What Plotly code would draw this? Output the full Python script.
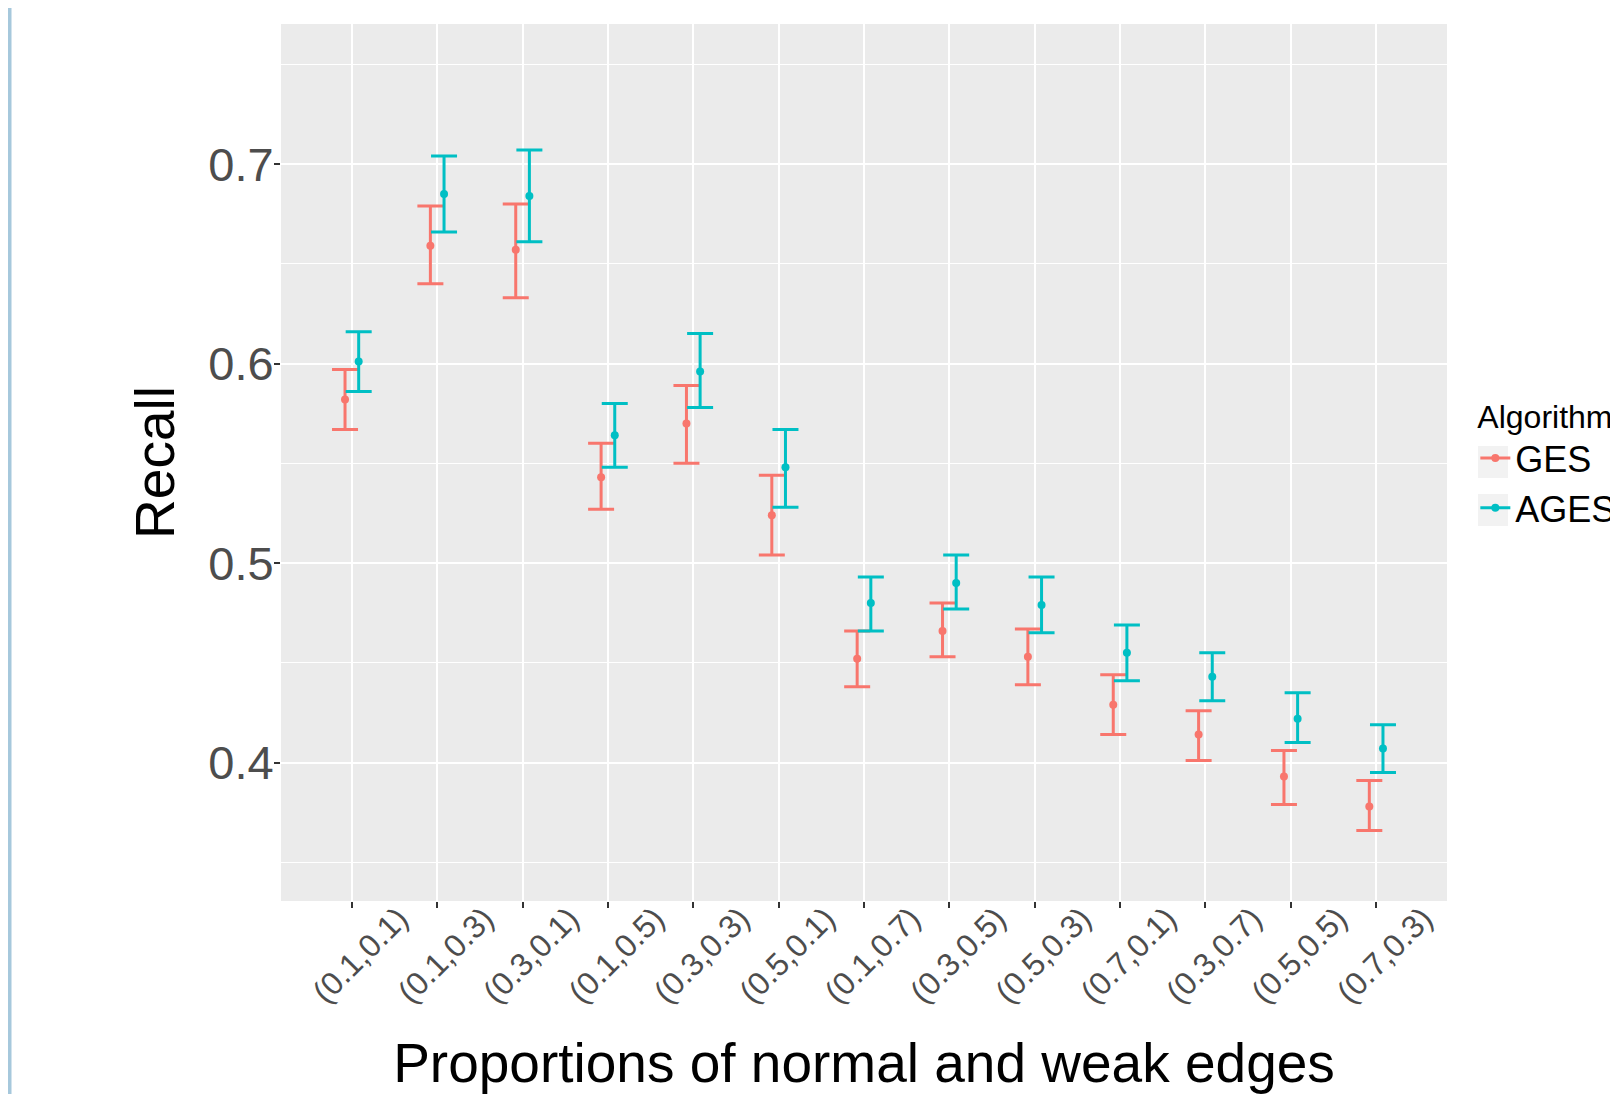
import plotly.graph_objects as go

categories = ["(0.1,0.1)", "(0.1,0.3)", "(0.3,0.1)", "(0.1,0.5)", "(0.3,0.3)", "(0.5,0.1)",
              "(0.1,0.7)", "(0.3,0.5)", "(0.5,0.3)", "(0.7,0.1)", "(0.3,0.7)", "(0.5,0.5)", "(0.7,0.3)"]

ges_mean = [0.582, 0.659, 0.657, 0.543, 0.570, 0.524, 0.452, 0.466, 0.453, 0.429, 0.414, 0.393, 0.378]
ges_upper = [0.597, 0.679, 0.680, 0.560, 0.589, 0.544, 0.466, 0.480, 0.467, 0.444, 0.426, 0.406, 0.391]
ges_lower = [0.567, 0.640, 0.633, 0.527, 0.550, 0.504, 0.438, 0.453, 0.439, 0.414, 0.401, 0.379, 0.366]

ages_mean = [0.601, 0.685, 0.684, 0.564, 0.596, 0.548, 0.480, 0.490, 0.479, 0.455, 0.443, 0.422, 0.407]
ages_upper = [0.616, 0.704, 0.707, 0.580, 0.615, 0.567, 0.493, 0.504, 0.493, 0.469, 0.455, 0.435, 0.419]
ages_lower = [0.586, 0.666, 0.661, 0.548, 0.578, 0.528, 0.466, 0.477, 0.465, 0.441, 0.431, 0.410, 0.395]

y_ticks = [0.4, 0.5, 0.6, 0.7]

FONT = "Liberation Sans, Arial, Helvetica, sans-serif"
DODGE = 0.08
pos = list(range(1, len(categories) + 1))

# page body has an 8px margin; figure size/margins compensate for it
W, H = 1610, 1086
ML, MR, MT, MB = 273, 171, 16, 193
PW, PH = W - ML - MR, H - MT - MB

fig = go.Figure()


def spaced(values):
    # isolate each point with a gap so no connecting line is drawn
    out = []
    for v in values:
        out.extend([v, None])
    return out


def add_series(name, color, mean, upper, lower, offset):
    fig.add_trace(go.Scatter(
        x=spaced([p + offset for p in pos]),
        y=spaced(mean),
        mode="lines+markers",
        connectgaps=False,
        name=name,
        line=dict(color=color, width=3),
        marker=dict(color=color, size=8),
        error_y=dict(
            type="data",
            symmetric=False,
            array=spaced([u - m for u, m in zip(upper, mean)]),
            arrayminus=spaced([m - l for m, l in zip(mean, lower)]),
            color=color,
            thickness=3,
            width=13,
        ),
        hovertemplate="%{y:.3f}<extra>" + name + "</extra>",
    ))


add_series("GES", "#F8766D", ges_mean, ges_upper, ges_lower, -DODGE)
add_series("AGES", "#00BFC4", ages_mean, ages_upper, ages_lower, DODGE)


def px_x(page_x):
    return (page_x - 8 - ML) / PW


def px_y(page_y):
    return 1 - (page_y - 8 - MT) / PH


key_boxes = []
for cy in (462, 510):
    key_boxes.append(dict(type="rect", xref="paper", yref="paper",
                          x0=px_x(1478), x1=px_x(1508), y0=px_y(cy + 16), y1=px_y(cy - 16),
                          fillcolor="#F2F2F2", line=dict(width=0), layer="below"))

fig.update_layout(
    width=W, height=H,
    margin=dict(l=ML, r=MR, t=MT, b=MB, autoexpand=False),
    paper_bgcolor="white",
    plot_bgcolor="#EBEBEB",
    font=dict(family=FONT, color="black"),
    showlegend=True,
    legend=dict(
        title=dict(text="Algorithm", font=dict(size=32, color="black", family=FONT)),
        font=dict(size=36, color="black", family=FONT),
        x=1.0243, xanchor="left", y=0.5, yanchor="middle",
        bgcolor="rgba(0,0,0,0)",
        tracegroupgap=0,
    ),
    xaxis=dict(
        range=[0.17, 13.83],
        tickmode="array",
        tickvals=pos,
        ticktext=categories,
        tickangle=-45,
        tickfont=dict(size=32, color="#4D4D4D", family=FONT),
        ticks="outside", ticklen=6, tickwidth=1.5, tickcolor="#333333",
        ticklabelshift=47,
        ticklabelstandoff=-21,
        showgrid=True, gridcolor="white", gridwidth=2,
        zeroline=False, showline=False,
        title=dict(text="Proportions of normal and weak edges",
                   font=dict(size=55, color="black", family=FONT), standoff=43),
    ),
    yaxis=dict(
        range=[0.3306, 0.7702],
        tickmode="array",
        tickvals=y_ticks,
        ticktext=[f"{v:.1f}" for v in y_ticks],
        tickfont=dict(size=47, color="#4D4D4D", family=FONT),
        ticks="outside", ticklen=6, tickwidth=1.5, tickcolor="#333333",
        ticklabelstandoff=-9,
        showgrid=True, gridcolor="white", gridwidth=2,
        minor=dict(dtick=0.05, tick0=0.35, showgrid=True, gridcolor="white", gridwidth=1, ticks=""),
        zeroline=False, showline=False,
        title=dict(text="Recall", font=dict(size=55, color="black", family=FONT), standoff=16),
    ),
    shapes=[
        dict(type="rect", xref="paper", yref="paper",
             x0=-ML / PW, x1=(3.5 - ML) / PW, y0=-MB / PH, y1=(H - MB) / PH,
             fillcolor="#A6C8DC", line=dict(width=0), layer="below"),
    ] + key_boxes,
)

fig.write_html("out.html")
